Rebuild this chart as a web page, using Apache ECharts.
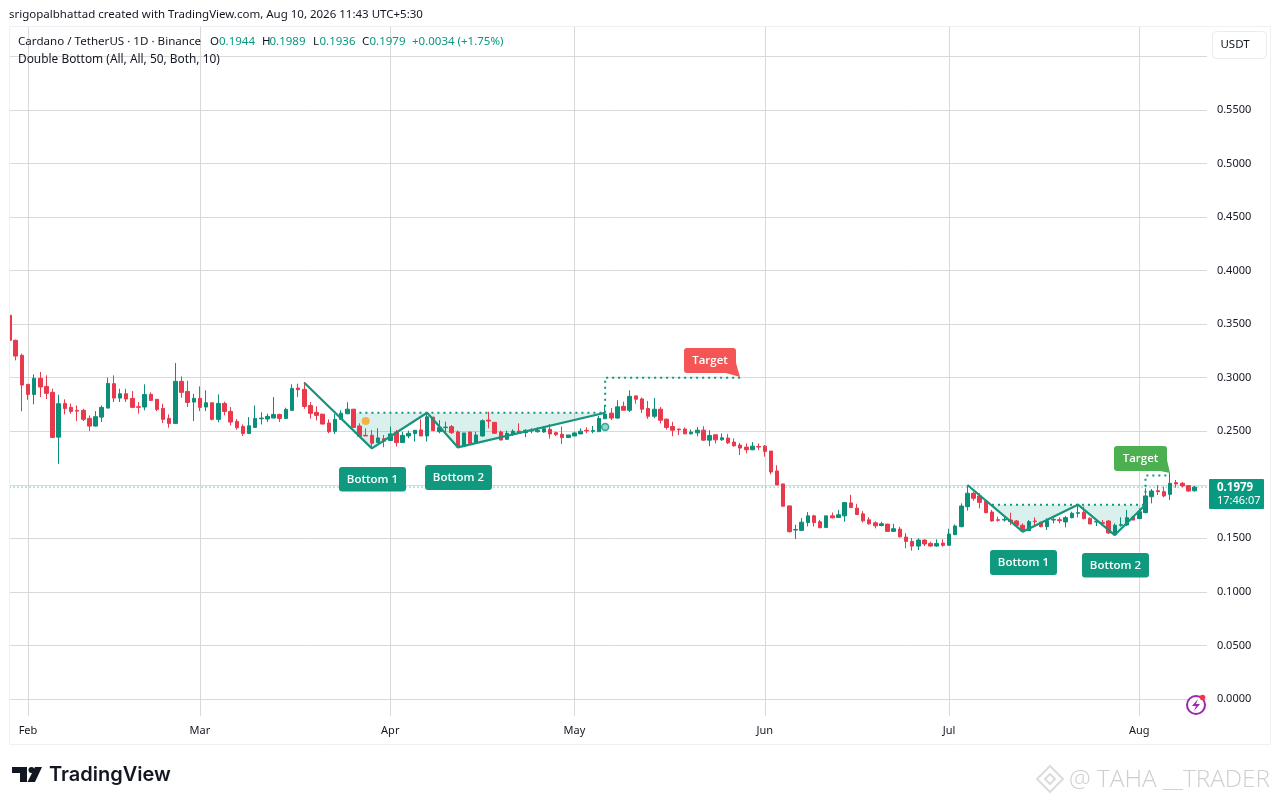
<!DOCTYPE html>
<html><head><meta charset="utf-8">
<style>html,body{margin:0;padding:0;background:#fff}#c{width:1280px;height:805px}</style>
<script src="https://cdn.jsdelivr.net/npm/echarts@6/dist/echarts.min.js"></script>
</head><body><div id="c"></div>
<script>
// candles: [open, close, low, high], one array per month
const janCandles = [[.3583,.3349,.3340,.3583],[.3349,.3202,.3162,.3355],[.3209,.2931,.2685,.3224]];
const febCandles = [[.2938,.2844,.2794,.2938],[.2844,.2994,.2751,.3031],[.2994,.2913,.2819,.3053],[.2919,.2854,.2801,.3022],[.2863,.2442,.2442,.2897],[.2445,.2757,.2196,.2841],[.2760,.2713,.2657,.2798],[.2723,.2685,.2664,.2757],[.2695,.2688,.2595,.2741],[.2695,.2611,.2595,.2710],[.2620,.2548,.2502,.2648],[.2548,.2636,.2545,.2688],[.2632,.2723,.2586,.2741],[.2716,.2947,.2716,.3000],[.2944,.2810,.2773,.3022],[.2810,.2850,.2773,.2897],[.2850,.2801,.2773,.2897],[.2807,.2723,.2716,.2875],[.2729,.2723,.2664,.2773],[.2726,.2844,.2695,.2938],[.2844,.2788,.2788,.2863],[.2798,.2704,.2688,.2798],[.2713,.2611,.2576,.2757],[.2620,.2573,.2533,.2657],[.2573,.2966,.2573,.3137],[.2966,.2863,.2813,.3012],[.2872,.2769,.2726,.2972],[.2772,.2807,.2595,.2850]];
const marCandles = [[.2807,.2723,.2688,.2919],[.2726,.2766,.2688,.2882],[.2766,.2611,.2601,.2766],[.2611,.2760,.2583,.2844],[.2760,.2685,.2648,.2776],[.2685,.2586,.2555,.2726],[.2592,.2533,.2514,.2614],[.2545,.2480,.2455,.2564],[.2480,.2551,.2480,.2632],[.2536,.2620,.2536,.2741],[.2617,.2623,.2564,.2676],[.2614,.2639,.2586,.2664],[.2623,.2657,.2623,.2819],[.2657,.2620,.2586,.2664],[.2620,.2704,.2620,.2720],[.2695,.2900,.2695,.2938],[.2903,.2888,.2819,.2944],[.2891,.2732,.2710,.2960],[.2741,.2667,.2617,.2773],[.2676,.2648,.2601,.2732],[.2660,.2567,.2567,.2660],[.2577,.2496,.2481,.2611],[.2499,.2611,.2475,.2660],[.2611,.2669,.2611,.2697],[.2663,.2706,.2663,.2771],[.2706,.2536,.2536,.2706],[.2549,.2453,.2444,.2574],[.2462,.2456,.2456,.2527],[.2462,.2388,.2342,.2512],[.2394,.2438,.2394,.2527],[.2431,.2407,.2351,.2465]];
const aprCandles = [[.2413,.2475,.2413,.2543],[.2493,.2394,.2357,.2512],[.2394,.2462,.2394,.2496],[.2456,.2481,.2434,.2506],[.2478,.2509,.2404,.2509],[.2512,.2456,.2456,.2611],[.2456,.2635,.2404,.2666],[.2632,.2506,.2506,.2632],[.2496,.2536,.2481,.2604],[.2533,.2539,.2487,.2589],[.2543,.2487,.2475,.2558],[.2493,.2351,.2351,.2506],[.2357,.2484,.2357,.2484],[.2493,.2388,.2382,.2493],[.2394,.2465,.2388,.2496],[.2456,.2598,.2450,.2611],[.2604,.2595,.2527,.2682],[.2583,.2481,.2475,.2583],[.2493,.2419,.2413,.2506],[.2425,.2481,.2419,.2506],[.2472,.2500,.2456,.2518],[.2502,.2481,.2475,.2574],[.2487,.2509,.2444,.2518],[.2503,.2512,.2481,.2527],[.2496,.2509,.2487,.2537],[.2493,.2524,.2487,.2549],[.2518,.2475,.2431,.2567],[.2487,.2468,.2456,.2496],[.2472,.2441,.2382,.2543],[.2441,.2465,.2441,.2465]];
const mayCandles = [[.2456,.2484,.2456,.2496],[.2475,.2500,.2475,.2527],[.2509,.2503,.2481,.2537],[.2500,.2506,.2481,.2549],[.2496,.2620,.2496,.2642],[.2617,.2660,.2617,.2744],[.2669,.2623,.2604,.2716],[.2623,.2728,.2617,.2790],[.2733,.2696,.2696,.2777],[.2696,.2826,.2681,.2882],[.2830,.2799,.2758,.2836],[.2802,.2706,.2671,.2814],[.2712,.2640,.2616,.2783],[.2640,.2706,.2622,.2811],[.2706,.2603,.2572,.2727],[.2613,.2535,.2516,.2619],[.2544,.2510,.2454,.2588],[.2520,.2513,.2464,.2526],[.2520,.2476,.2473,.2535],[.2476,.2492,.2470,.2516],[.2485,.2510,.2454,.2541],[.2510,.2417,.2411,.2547],[.2417,.2461,.2361,.2510],[.2467,.2420,.2386,.2467],[.2420,.2439,.2411,.2479],[.2436,.2392,.2380,.2473],[.2399,.2364,.2355,.2433],[.2371,.2343,.2278,.2392],[.2352,.2327,.2293,.2386],[.2327,.2361,.2324,.2399],[.2358,.2352,.2324,.2386]];
const junCandles = [[.2361,.2312,.2262,.2371],[.2315,.2120,.2098,.2315],[.2129,.1999,.1996,.2182],[.2008,.1800,.1800,.2008],[.1803,.1562,.1555,.1803],[.1577,.1583,.1493,.1627],[.1574,.1651,.1574,.1689],[.1648,.1710,.1611,.1745],[.1710,.1648,.1611,.1720],[.1655,.1599,.1596,.1673],[.1602,.1710,.1602,.1710],[.1710,.1692,.1686,.1741],[.1695,.1720,.1695,.1766],[.1710,.1834,.1655,.1834],[.1831,.1788,.1782,.1906],[.1782,.1723,.1717,.1822],[.1729,.1664,.1648,.1754],[.1673,.1636,.1627,.1698],[.1645,.1617,.1593,.1658],[.1620,.1636,.1611,.1655],[.1633,.1565,.1562,.1636],[.1565,.1590,.1565,.1636],[.1586,.1515,.1506,.1608],[.1512,.1472,.1407,.1549],[.1472,.1428,.1385,.1503],[.1428,.1484,.1391,.1500],[.1484,.1447,.1428,.1491],[.1453,.1428,.1422,.1469],[.1428,.1453,.1422,.1491],[.1456,.1435,.1422,.1491]];
const julCandles = [[.1435,.1540,.1435,.1590],[.1534,.1615,.1534,.1630],[.1609,.1802,.1603,.1827],[.1796,.1921,.1759,.1998],[.1921,.1874,.1852,.1936],[.1896,.1836,.1780,.1921],[.1849,.1740,.1734,.1858],[.1746,.1662,.1656,.1765],[.1674,.1668,.1656,.1702],[.1671,.1677,.1656,.1709],[.1671,.1656,.1625,.1740],[.1662,.1622,.1609,.1671],[.1622,.1569,.1559,.1640],[.1572,.1656,.1569,.1671],[.1662,.1656,.1615,.1696],[.1650,.1609,.1603,.1656],[.1609,.1665,.1578,.1687],[.1671,.1677,.1640,.1702],[.1674,.1665,.1640,.1696],[.1653,.1693,.1603,.1709],[.1693,.1734,.1687,.1749],[.1734,.1740,.1696,.1811],[.1743,.1684,.1678,.1796],[.1687,.1634,.1634,.1696],[.1653,.1659,.1615,.1671],[.1646,.1640,.1615,.1671],[.1662,.1550,.1541,.1671],[.1534,.1622,.1531,.1640],[.1622,.1628,.1609,.1696],[.1625,.1693,.1615,.1765],[.1699,.1671,.1671,.1709]];
const augCandles = [[.1684,.1749,.1684,.1780],[.1740,.1896,.1734,.1967],[.1889,.1942,.1827,.1961],[.1945,.1936,.1905,.1998],[.1936,.1896,.1883,.1983],[.1911,.2014,.1858,.2114],[.2020,.2008,.1973,.2045],[.2014,.1989,.1977,.2026],[.1992,.1942,.1936,.1998],[.1944,.1979,.1936,.1989]];

const months = [['Jan',29,janCandles],['Feb',1,febCandles],['Mar',1,marCandles],['Apr',1,aprCandles],['May',1,mayCandles],['Jun',1,junCandles],['Jul',1,julCandles],['Aug',1,augCandles]];
const priceTicks = [0,.05,.10,.15,.20,.25,.30,.35,.40,.45,.50,.55];
const gridTicks = [0,.05,.10,.15,.20,.25,.30,.35,.40,.45,.50,.55,.60];
const lastPrice = .1979;

// double bottom patterns: [candle index, price]
const zig1 = [[48,.2953],[59,.2340],[68,.2673],[73,.2350],[97,.2673]];
const neck1 = [[56,.2673],[97,.2673]];
const fill1 = [[56,.2673],[56,.2507],[59,.2340],[68,.2673],[73,.2350],[97,.2673]];
const target1 = [[97,.2673],[97,.3000],[119,.3000]];
const zig2 = [[156,.1998],[165,.1562],[174,.1814],[180,.1531],[185,.1814]];
const neck2 = [[160,.1814],[185,.1814]];
const fill2 = [[160,.1814],[160,.1804],[165,.1562],[174,.1814],[180,.1531],[185,.1814]];
const target2 = [[185,.1814],[185,.2086],[189,.2086]];
const orangeDot = [[58,.2595]];
const greenDot = [[97,.2540]];

const categories = [], candles = [], monthLabels = {};
months.forEach(([m,start,rows])=>{
  if(m!=='Jan') monthLabels[categories.length]=m;
  rows.forEach((r,k)=>{categories.push(m+' '+(start+k)); candles.push(r);});
});
categories.push('');               // right-hand blank slot (x-axis extent)
categories.push('');

const TEAL='#089981', UP='#0b8f79', RED='#e8394d', GRIDC='#d9d9d9', TXT='#131722';
const FONT='"Noto Sans", sans-serif';
const SPACING=6.14, X0=9.58, XR=X0+(categories.length-1)*SPACING;
const TOP=27, BOT=716;

const polySeries=(pts,z)=>({
  type:'custom',z,silent:true,clip:true,
  data:[0],
  renderItem:(p,api)=>({type:'polygon',shape:{points:pts.map(q=>api.coord(q))},style:{fill:'rgba(8,153,129,0.15)'}})
});
const lineSeries=(pts,z,ls)=>({
  type:'line',z,data:pts,symbol:'none',silent:true,animation:false,lineStyle:ls
});
const solid={color:'#16947e',width:2.2};
const dotted={color:TEAL,width:2,type:[2,4]};

function label(x,y,w,h,fill,text,tail){
  const els=[{type:'rect',z:50,shape:{x,y,width:w,height:h,r:3},style:{fill}}];
  if(tail) els.push({type:'polygon',z:50,shape:{points:tail},style:{fill}});
  els.push({type:'text',z:51,style:{x:x+w/2,y:y+h/2,text,fill:'#fff',font:'600 11.5px "Open Sans", sans-serif',textAlign:'center',textVerticalAlign:'middle'}});
  return els;
}
const hdr=(x,y,text,fill,size)=>({type:'text',z:60,style:{x,y,text,fill:fill||TXT,font:(size||12)+'px '+FONT,textVerticalAlign:'middle'}});

const graphics=[
  {type:'rect',z:40,shape:{x:0,y:27,width:9.5,height:700},style:{fill:'#fff'}},
  {type:'rect',z:41,shape:{x:9.5,y:26.5,width:1261,height:718},style:{fill:'none',stroke:'#eef0f3',lineWidth:1}},
  hdr(9,14.5,'srigopalbhattad created with TradingView.com, Aug 10, 2026 11:43 UTC+5:30',TXT,11.5),
  hdr(18,41.5,'Cardano / TetherUS · 1D · Binance',TXT,11.6),
  hdr(210,41.5,'O',TXT,11.5),hdr(219,41.5,'0.1944',TEAL,11.5),
  hdr(262,41.5,'H',TXT,11.5),hdr(269.5,41.5,'0.1989',TEAL,11.5),
  hdr(313,41.5,'L',TXT,11.5),hdr(319.5,41.5,'0.1936',TEAL,11.5),
  hdr(362,41.5,'C',TXT,11.5),hdr(369.5,41.5,'0.1979',TEAL,11.5),
  hdr(412,41.5,'+0.0034 (+1.75%)',TEAL,11.5),
  hdr(18,59.5,'Double Bottom (All, All, 50, Both, 10)',TXT,11.9),
  {type:'rect',z:60,shape:{x:1212.5,y:31.5,width:54,height:27,r:4},style:{fill:'#fff',stroke:'#e9ebef',lineWidth:1}},
  {type:'text',z:61,style:{x:1235,y:45,text:'USDT',fill:TXT,font:'11.5px '+FONT,textAlign:'center',textVerticalAlign:'middle'}},
  ...label(339,467,67,24.5,'#0f9a80','Bottom 1'),
  ...label(425,465,67,25,'#0f9a80','Bottom 2'),
  ...label(990,550,67,25,'#0f9a80','Bottom 1'),
  ...label(1082,553,67,24.5,'#0f9a80','Bottom 2'),
  ...label(684,348,52,25,'#f55555','Target',[[726,373],[736,363],[740,377]]),
  ...label(1114,446,53,25,'#4caf50','Target',[[1160,471],[1167,460],[1170,473]]),
  // last price box
  {type:'rect',z:60,shape:{x:1209,y:479,width:55,height:30,r:1},style:{fill:TEAL}},
  {type:'text',z:61,style:{x:1217,y:487.5,text:'0.1979',fill:'#fff',font:'700 11.5px '+FONT,textVerticalAlign:'middle'}},
  {type:'text',z:61,style:{x:1217,y:501,text:'17:46:07',fill:'#fff',font:'11px '+FONT,textVerticalAlign:'middle'}},
  // purple icon
  {type:'circle',z:60,shape:{cx:1196,cy:705,r:9},style:{fill:'#fff',stroke:'#9c27b0',lineWidth:2}},
  {type:'polygon',z:61,shape:{points:[[1198,699],[1192,706],[1196,706],[1194,711],[1200,704],[1196,704]]},style:{fill:'#9c27b0'}},
  {type:'circle',z:62,shape:{cx:1202.5,cy:697.5,r:2.8},style:{fill:'#f23645'}},
  // TradingView logo
  {type:'polygon',z:60,shape:{points:[[12,767],[27,767],[27,782],[20,782],[20,773],[12,773]]},style:{fill:'#131722'}},
  {type:'circle',z:60,shape:{cx:31.5,cy:770,r:3},style:{fill:'#131722'}},
  {type:'polygon',z:60,shape:{points:[[35,767],[42,767],[35,782],[27.5,782]]},style:{fill:'#131722'}},
  {type:'text',z:60,style:{x:49,y:775,text:'TradingView',fill:'#131722',font:'600 20px Inter, sans-serif',textVerticalAlign:'middle'}},
  // watermark
  {type:'polygon',z:60,shape:{points:[[1050,766],[1063,779],[1050,792],[1037,779]]},style:{fill:'none',stroke:'#dcdcdc',lineWidth:2}},
  {type:'polygon',z:60,shape:{points:[[1050,774],[1055,779],[1050,784],[1045,779]]},style:{fill:'none',stroke:'#dcdcdc',lineWidth:2}},
  {type:'text',z:60,style:{x:1069,y:780,text:'@ TAHA __TRADER',fill:'#cfcfcf',font:'300 24.4px "Open Sans", sans-serif',textVerticalAlign:'middle'}}
];

const chart=echarts.init(document.getElementById('c'),null,{renderer:'canvas'});
chart.setOption({
  animation:false,
  backgroundColor:'#fff',
  grid:{left:X0,top:TOP,width:XR-X0,height:BOT-TOP,containLabel:false},
  xAxis:{
    type:'category',data:categories,boundaryGap:false,
    axisLine:{show:false},axisTick:{show:false},
    splitLine:{show:true,interval:i=>monthLabels[i]!==undefined,lineStyle:{color:GRIDC,width:1}},
    axisLabel:{interval:i=>monthLabels[i]!==undefined,formatter:(v,i)=>monthLabels[i]||'',color:TXT,fontSize:11,fontFamily:FONT,margin:9}
  },
  yAxis:{
    type:'value',position:'right',min:-17/1071,max:672/1071,scale:false,
    axisLine:{show:false},
    axisTick:{show:false,customValues:gridTicks},
    splitLine:{show:true,lineStyle:{color:GRIDC,width:1}},
    axisLabel:{customValues:priceTicks,formatter:v=>v.toFixed(4),color:TXT,fontSize:11,fontFamily:FONT,margin:10,padding:[2,0,0,0]}
  },
  series:[
    polySeries(fill1,1),polySeries(fill2,1),
    lineSeries([[0,lastPrice],[categories.length-1,lastPrice]],1,{color:TEAL,width:1,type:[1,3]}),
    lineSeries(neck1,1.5,dotted),lineSeries(neck2,1.5,dotted),
    {type:'candlestick',z:2,data:candles,barWidth:4,silent:true,
     itemStyle:{color:UP,color0:RED,borderColor:UP,borderColor0:RED,borderWidth:1}},
    lineSeries(target1,3,dotted),lineSeries(target2,3,dotted),
    lineSeries(zig1,4,solid),lineSeries(zig2,4,solid),
    {type:'scatter',z:5,data:orangeDot,symbolSize:8,silent:true,itemStyle:{color:'#f7a11c'}},
    {type:'scatter',z:5,data:greenDot,symbolSize:7,silent:true,itemStyle:{color:'#7fc9b8',borderColor:TEAL,borderWidth:1.5}}
  ],
  graphic:graphics
});
</script></body></html>
